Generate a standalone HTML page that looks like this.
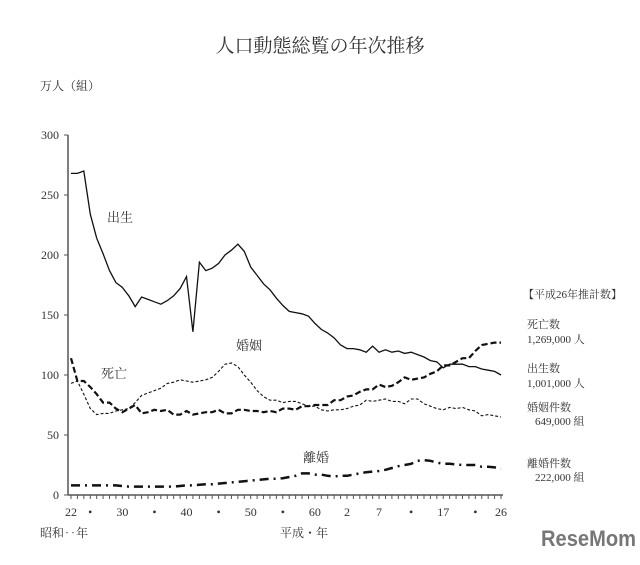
<!DOCTYPE html>
<html><head><meta charset="utf-8"><style>
body{margin:0;background:#fff;width:640px;height:560px;overflow:hidden;font-family:"Liberation Serif","Noto Serif CJK SC",serif;color:#333}
svg text{font-family:"Liberation Serif","Noto Serif CJK SC",serif;fill:#333}
</style></head><body>
<svg id="chart" width="640" height="560" xmlns="http://www.w3.org/2000/svg">
<text x="320" y="52" font-size="19" text-anchor="middle">人口動態総覧の年次推移</text>
<text x="40" y="90" font-size="12">万人（組）</text>
<text x="40" y="537" font-size="12">昭和‥年</text>
<text x="280" y="537" font-size="12">平成・年</text>
<text x="107" y="222" font-size="13">出生</text>
<text x="101" y="378" font-size="13">死亡</text>
<text x="236" y="350" font-size="13">婚姻</text>
<text x="303" y="462" font-size="13">離婚</text>
<g font-size="11">
<text x="523" y="298">【平成26年推計数】</text>
<text x="527" y="328">死亡数</text><text x="527" y="343">1,269,000 人</text>
<text x="527" y="372">出生数</text><text x="527" y="387">1,001,000 人</text>
<text x="527" y="411">婚姻件数</text><text x="535" y="425">649,000 組</text>
<text x="527" y="467">離婚件数</text><text x="535" y="481">222,000 組</text>
</g>
<text x="541" y="546" font-size="22" font-weight="bold" textLength="95" lengthAdjust="spacingAndGlyphs" style="font-family:'Liberation Sans',sans-serif;fill:#777">ReseMom</text>
<g id="axes"></g><g id="series"></g>
</svg>
<script>
const startYear=1947;
const births=[268,268,270,234,214,201,187,177,173,166,157,165,163,161,159,162,166,172,182,136,194,187,189,193,200,204,209,203,190,183,176,171,164,158,153,152,151,149,143,138,135,131,125,122,122,121,119,124,119,121,119,120,118,119,117,115,112,111,106,109,109,109,107,107,105,104,103,100];
const deaths=[114,95,95,90,84,77,77,72,69,72,75,68,69,71,70,71,67,67,70,67,68,69,69,71,68,68,71,71,70,70,69,70,69,72,72,71,74,74,75,75,75,79,79,82,83,86,88,88,92,90,91,94,98,96,97,98,101,103,108,108,111,114,114,120,125,126,127,127];
const marriages=[93,95,84,72,67,68,68,70,71,72,77,83,85,87,89,93,94,96,95,94,95,96,98,103,109,110,107,100,94,87,82,79,79,77,78,78,76,74,74,71,70,71,71,72,74,75,79,78,79,80,78,78,76,80,80,76,74,72,71,73,72,73,71,70,66,67,66,65];
const divorces=[8,8,8,8,8,8,8,8,7.5,7,7,7,7,7,7,7,7,7.5,8,8,8.5,9,9,9.5,10,10.5,11,11.5,12,12.5,13,13.5,13.5,14,15,16,18,18,17,17,16,15.5,16,16,17,18,19,19.5,20,21,22.5,24,25,26,28.5,29,28.5,27,26,26,25.5,25,25,25,23.5,23.5,23,22];
const yTicks=[0,50,100,150,200,250,300];
const xTickLabels=[["22",1947],["•",1950],["30",1955],["•",1960],["40",1965],["•",1970],["50",1975],["•",1980],["60",1985],["2",1990],["7",1995],["•",2000],["17",2005],["•",2010],["26",2014]];
const NS="http://www.w3.org/2000/svg";
const x=yr=>71+(yr-1947)*(430/67);
const y=v=>495-v*1.2;
function mk(tag,attrs,parent){const e=document.createElementNS(NS,tag);for(const k in attrs)e.setAttribute(k,attrs[k]);parent.appendChild(e);return e;}
const ax=document.getElementById('axes');
const yl=mk('line',{x1:68,y1:y(300),x2:68,y2:y(0),stroke:'#555','stroke-width':1.5},ax);


const xl=mk('line',{x1:68,y1:y(0),x2:x(2014)+2,y2:y(0),stroke:'#555','stroke-width':1.5},ax);


yTicks.forEach(v=>{
  mk('line',{x1:64,x2:68,y1:y(v),y2:y(v),stroke:'#555'},ax);
  const t=mk('text',{x:59,y:y(v)+4,'font-size':12,'text-anchor':'end'},ax);t.textContent=v;
  
  
});
for(let yr=1947;yr<=2014;yr++)mk('line',{x1:x(yr),x2:x(yr),y1:y(0),y2:y(0)+4,stroke:'#555'},ax);
xTickLabels.forEach(([l,yr])=>{
  const t=mk('text',{x:x(yr),y:516,'font-size':12,'text-anchor':'middle'},ax);t.textContent=l;
  
  
});
const sg=document.getElementById('series');
function line(data,name,style){
  const d=data.map((v,i)=>(i?'L':'M')+x(startYear+i).toFixed(1)+','+y(v).toFixed(1)).join('');
  const p=mk('path',Object.assign({d:d,fill:'none',stroke:'#111'},style),sg);
  
  
}
line(births,'births-line',{'stroke-width':1.3});
line(deaths,'deaths-line',{'stroke-width':2.2,'stroke-dasharray':'6 3'});
line(marriages,'marriages-line',{'stroke-width':1.1,'stroke-dasharray':'3 2'});
line(divorces,'divorces-line',{'stroke-width':2.5,'stroke-dasharray':'9 5 2 5'});
</script>
</body></html>
